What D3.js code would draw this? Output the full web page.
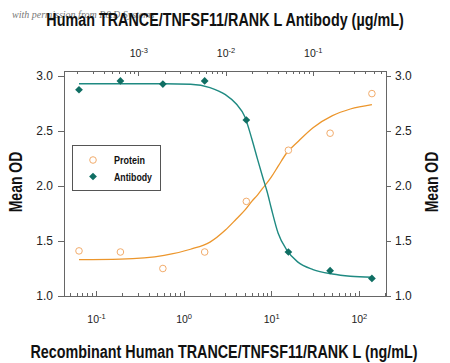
<!DOCTYPE html>
<html>
<head>
	<meta charset="utf-8">
	<title>TRANCE / RANK L neutralization</title>
	<script type="text/javascript" src="https://d3js.org/d3.v7.min.js"></script>
	<style type="text/css">
		body { margin: 0; background: #fff; }
		.axis path { display: none; }
		.axis line { stroke: #666; shape-rendering: crispEdges; }
		.od text { font-family: "Liberation Sans", Arial, sans-serif; font-size: 12px; fill: #222; }
		.pow { font-family: "Liberation Sans", Arial, sans-serif; font-size: 10.5px; fill: #222; }
		.title { font-family: "Liberation Sans", Arial, sans-serif; font-weight: bold; font-size: 17.5px; fill: #111; }
		.legend text { font-family: "Liberation Sans", Arial, sans-serif; font-weight: bold; font-size: 11px; fill: #111; }
	</style>
</head>
<body>
<script type="text/javascript">
	// data
	var conc = [0.064, 0.19, 0.58, 1.74, 5.2, 15.7, 47, 141];        // ng/mL
	var protein = [1.41, 1.40, 1.25, 1.40, 1.86, 2.325, 2.48, 2.84];
	var antibody = [2.875, 2.955, 2.927, 2.955, 2.60, 1.40, 1.23, 1.16];

	// fitted curves, sampled from the drawn lines
	var fitConc = [0.064, 0.19, 0.6, 1.2, 2, 3, 4, 5, 6, 7, 8, 9, 10, 12, 15, 20, 30, 50, 80, 141];
	var proteinFit = [1.33, 1.335, 1.37, 1.425, 1.49, 1.60, 1.70, 1.78, 1.86, 1.92, 1.98, 2.03, 2.08, 2.18, 2.30, 2.40, 2.53, 2.64, 2.70, 2.74];
	var antibodyFit = [2.93, 2.93, 2.93, 2.925, 2.895, 2.83, 2.745, 2.63, 2.43, 2.24, 2.08, 1.945, 1.80, 1.57, 1.42, 1.31, 1.24, 1.20, 1.18, 1.17];

	var odTicks = [1.0, 1.5, 2.0, 2.5, 3.0];
	var ngExp = [-1, 0, 1, 2];       // bottom axis labels
	var ugExp = [-3, -2, -1];        // top axis labels

	var width = 450, height = 363;
	var box = {left: 64, right: 386, top: 71, bottom: 296};

	var svg = d3.select("body").append("svg")
		.attr("width", width)
		.attr("height", height);

	// scales
	var x = d3.scaleLog()
		.domain([Math.pow(10, -1.365), Math.pow(10, 2.31)])
		.range([box.left, box.right]);
	var xTop = d3.scaleLog()
		.domain([Math.pow(10, -3.852), Math.pow(10, -0.16)])
		.range([box.left, box.right]);
	var y = d3.scaleLinear()
		.domain([1, 3])
		.range([296, 76]);

	// watermark that sits under the top title
	svg.append("text")
		.attr("x", 12)
		.attr("y", 18)
		.attr("font-family", "Liberation Serif, serif")
		.attr("font-style", "italic")
		.attr("font-size", 10)
		.attr("fill", "#777")
		.text("with permission from R&D Systems");

	// frame
	svg.append("rect")
		.attr("x", box.left)
		.attr("y", box.top)
		.attr("width", box.right - box.left)
		.attr("height", box.bottom - box.top)
		.attr("fill", "none")
		.attr("stroke", "#666")
		.attr("shape-rendering", "crispEdges");

	// left / right OD axes
	svg.append("g")
		.attr("class", "axis od")
		.attr("transform", "translate(" + box.left + ",0)")
		.call(d3.axisLeft(y).tickValues(odTicks).tickFormat(d3.format(".1f")).tickSize(6).tickPadding(5));
	svg.append("g")
		.attr("class", "axis od")
		.attr("transform", "translate(" + box.right + ",0)")
		.call(d3.axisRight(y).tickValues(odTicks).tickFormat(d3.format(".1f")).tickSize(5).tickPadding(4));

	// log axes, ticks pointing into the plot
	function isPow(d) {
		var e = Math.log10(d);
		return Math.abs(e - Math.round(e)) < 1e-6;
	}
	var gB = svg.append("g")
		.attr("class", "axis")
		.attr("transform", "translate(0," + box.bottom + ")")
		.call(d3.axisTop(x).ticks(10).tickFormat("").tickSize(3));
	gB.selectAll(".tick line").filter(isPow).attr("y2", -5);

	var gT = svg.append("g")
		.attr("class", "axis")
		.attr("transform", "translate(0," + box.top + ")")
		.call(d3.axisBottom(xTop).ticks(10).tickFormat("").tickSize(3));
	gT.selectAll(".tick line").filter(isPow).attr("y2", 5);

	function powLabel(sel) {
		sel.append("tspan").text("10");
		sel.append("tspan")
			.attr("dy", -4)
			.attr("font-size", 7.5)
			.text(function(d){ return d < 0 ? "-" + (-d) : d; });
	}
	svg.selectAll(".powB")
		.data(ngExp)
		.enter()
		.append("text")
		.attr("class", "pow")
		.attr("text-anchor", "middle")
		.attr("x", function(d){ return x(Math.pow(10, d)) + 0.5; })
		.attr("y", 322.5)
		.call(powLabel);
	svg.selectAll(".powT")
		.data(ugExp)
		.enter()
		.append("text")
		.attr("class", "pow")
		.attr("text-anchor", "middle")
		.attr("x", function(d){ return xTop(Math.pow(10, d)) + 0.5; })
		.attr("y", 57)
		.call(powLabel);

	// axis titles, squeezed horizontally to look like the condensed face of the original
	function title(txt, pos, sx) {
		return svg.append("text")
			.attr("class", "title")
			.attr("text-anchor", "middle")
			.attr("transform", pos + " scale(" + sx + ",1)")
			.text(txt);
	}
	title("Human TRANCE/TNFSF11/RANK L Antibody (\u00b5g/mL)", "translate(225,26)", 0.82);
	title("Recombinant Human TRANCE/TNFSF11/RANK L (ng/mL)", "translate(224,358)", 0.82);
	title("Mean OD", "translate(22,182) rotate(-90)", 0.8);
	title("Mean OD", "translate(438,182) rotate(-90)", 0.8);

	// fit lines
	var line = d3.line()
		.x(function(d){ return x(d[0]); })
		.y(function(d){ return y(d[1]); })
		.curve(d3.curveMonotoneX);

	svg.append("path")
		.datum(d3.zip(fitConc, proteinFit))
		.attr("d", line)
		.attr("fill", "none")
		.attr("stroke", "#ec962c")
		.attr("stroke-width", 1.3);
	svg.append("path")
		.datum(d3.zip(fitConc, antibodyFit))
		.attr("d", line)
		.attr("fill", "none")
		.attr("stroke", "#1f8a82")
		.attr("stroke-width", 1.4);

	// points
	svg.selectAll(".prot")
		.data(d3.zip(conc, protein))
		.enter()
		.append("circle")
		.attr("class", "prot")
		.attr("cx", function(d){ return x(d[0]); })
		.attr("cy", function(d){ return y(d[1]); })
		.attr("r", 3.3)
		.attr("fill", "#fff")
		.attr("stroke", "#f2ac6c")
		.attr("stroke-width", 1);

	var diamond = d3.symbol().type(d3.symbolSquare).size(30);
	svg.selectAll(".ab")
		.data(d3.zip(conc, antibody))
		.enter()
		.append("path")
		.attr("class", "ab")
		.attr("d", diamond)
		.attr("transform", function(d){ return "translate(" + x(d[0]) + "," + y(d[1]) + ") rotate(45)"; })
		.attr("fill", "#0f6e63");

	// legend
	var lg = svg.append("g").attr("class", "legend");
	lg.append("rect")
		.attr("x", 72.5)
		.attr("y", 145.5)
		.attr("width", 88)
		.attr("height", 45)
		.attr("fill", "#fff")
		.attr("stroke", "#555");
	lg.append("circle")
		.attr("cx", 93)
		.attr("cy", 160)
		.attr("r", 3.3)
		.attr("fill", "#fff")
		.attr("stroke", "#f2ac6c");
	lg.append("path")
		.attr("d", diamond)
		.attr("transform", "translate(93,176.5) rotate(45)")
		.attr("fill", "#0f6e63");
	lg.append("text").attr("x", 114).attr("y", 164)
		.attr("textLength", 31).attr("lengthAdjust", "spacingAndGlyphs").text("Protein");
	lg.append("text").attr("x", 114).attr("y", 180.5)
		.attr("textLength", 38).attr("lengthAdjust", "spacingAndGlyphs").text("Antibody");
</script>
</body>
</html>
